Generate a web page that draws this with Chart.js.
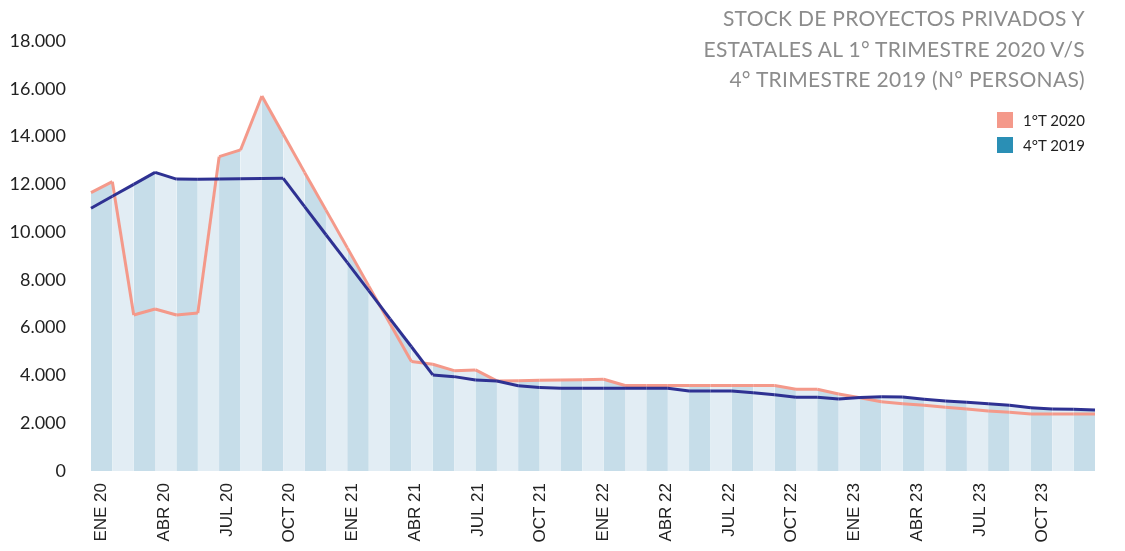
<!DOCTYPE html>
<html lang="es">
<head>
<meta charset="utf-8">
<script src="https://cdn.jsdelivr.net/npm/chart.js@4/dist/chart.umd.min.js"></script>
<style>
  html, body { margin: 0; padding: 0; background: #fff; }
  #wrap { position: relative; width: 1125px; height: 551px; }
  #title {
    position: absolute; right: 40px; top: 3px;
    font-family: Lato, "Open Sans", sans-serif; font-size: 21px; line-height: 30.5px;
    color: #8c8c8c; text-align: right; letter-spacing: 0.3px;
  }
  #legend {
    position: absolute; right: 40px; top: 107px;
    font-family: Lato, "Open Sans", sans-serif; font-size: 15px; color: #222;
  }
  #legend div { display: flex; align-items: center; justify-content: flex-end; height: 25px; }
  #legend span.sw { display: inline-block; width: 16px; height: 16px; margin-right: 10px; }
</style>
</head>
<body>
<div id="wrap">
  <canvas id="chart" width="1125" height="551"></canvas>
  <div id="title">STOCK DE PROYECTOS PRIVADOS Y<br>ESTATALES AL 1° TRIMESTRE 2020 V/S<br>4° TRIMESTRE 2019 (N° PERSONAS)</div>
  <div id="legend"></div>
</div>
<script>
const months = [
  'ENE 20', 'FEB 20', 'MAR 20', 'ABR 20', 'MAY 20', 'JUN 20', 'JUL 20', 'AGO 20', 'SEP 20', 'OCT 20', 'NOV 20', 'DIC 20',
  'ENE 21', 'FEB 21', 'MAR 21', 'ABR 21', 'MAY 21', 'JUN 21', 'JUL 21', 'AGO 21', 'SEP 21', 'OCT 21', 'NOV 21', 'DIC 21',
  'ENE 22', 'FEB 22', 'MAR 22', 'ABR 22', 'MAY 22', 'JUN 22', 'JUL 22', 'AGO 22', 'SEP 22', 'OCT 22', 'NOV 22', 'DIC 22',
  'ENE 23', 'FEB 23', 'MAR 23', 'ABR 23', 'MAY 23', 'JUN 23', 'JUL 23', 'AGO 23', 'SEP 23', 'OCT 23', 'NOV 23', 'DIC 23'
];

// 1°T 2020
const t1_2020 = [
  11650, 12110, 6530, 6780, 6530, 6610, 13160, 13440, 15700, 14100, 12500, 10920,
  9340, 7750, 6160, 4580, 4470, 4200, 4230, 3770, 3780, 3800, 3810, 3820,
  3840, 3580, 3580, 3580, 3580, 3580, 3580, 3580, 3580, 3420, 3420, 3220,
  3070, 2900, 2820, 2750, 2670, 2600, 2510, 2460, 2390, 2390, 2390, 2390
];

// 4°T 2019
const t4_2019 = [
  11000, 11500, 12000, 12500, 12220, 12210, 12220, 12230, 12240, 12250, 11070, 9890,
  8720, 7550, 6370, 5200, 4020, 3950, 3810, 3770, 3570, 3500, 3460, 3460,
  3460, 3460, 3460, 3460, 3350, 3350, 3350, 3280, 3190, 3090, 3090, 3010,
  3080, 3110, 3100, 3000, 2930, 2880, 2820, 2750, 2650, 2600, 2580, 2550
];

const yTicks = [0, 2000, 4000, 6000, 8000, 10000, 12000, 14000, 16000, 18000];

const COLOR_T1 = '#f4998a';
const COLOR_T4 = '#2e3192';
const COLOR_T4_LEGEND = '#2a8fb5';
const STRIPE_DARK = '#c6dde9';
const STRIPE_LIGHT = '#e2edf4';

const legendItems = [
  { label: '1°T 2020', color: COLOR_T1 },
  { label: '4°T 2019', color: COLOR_T4_LEGEND },
];

const legendEl = document.getElementById('legend');
legendItems.forEach(item => {
  const row = document.createElement('div');
  row.innerHTML = `<span class="sw" style="background:${item.color}"></span><span>${item.label}</span>`;
  legendEl.appendChild(row);
});

function stripe(ctx) {
  return ctx.p0DataIndex % 2 === 0 ? STRIPE_DARK : STRIPE_LIGHT;
}

function thousands(v) {
  return String(v).replace(/\B(?=(\d{3})+(?!\d))/g, '.');
}

new Chart(document.getElementById('chart'), {
  type: 'line',
  data: {
    labels: months,
    datasets: [
      {
        label: '1°T 2020',
        data: t1_2020,
        xAxisID: 'x2',
        borderColor: COLOR_T1,
        borderWidth: 3,
        pointRadius: 0,
        tension: 0,
        fill: 'origin',
        backgroundColor: STRIPE_DARK,
        segment: { backgroundColor: stripe },
        order: 2,
      },
      {
        label: '4°T 2019',
        data: t4_2019,
        xAxisID: 'x2',
        borderColor: COLOR_T4,
        borderWidth: 3,
        pointRadius: 0,
        tension: 0,
        fill: 'origin',
        backgroundColor: STRIPE_DARK,
        segment: { backgroundColor: stripe },
        order: 1,
      },
    ]
  },
  options: {
    responsive: false,
    animation: false,
    devicePixelRatio: 1,
    layout: { padding: { top: 41, right: 30, left: 0, bottom: 0 } },
    plugins: {
      legend: { display: false },
      tooltip: { enabled: false },
      filler: { drawTime: 'beforeDatasetsDraw' },
    },
    scales: {
      x: {
        type: 'category',
        offset: true,
        grid: { display: false },
        border: { display: false },
        ticks: {
          autoSkip: false,
          maxRotation: 90,
          minRotation: 90,
          padding: 4,
          color: '#222',
          font: { family: '"Liberation Sans", Arial, sans-serif', size: 17 },
          callback: (v, i) => (i % 3 === 0 ? months[i] : ''),
        },
        afterFit: scale => { scale.height = 80; },
      },
      x2: {
        type: 'category',
        offset: false,
        display: false,
      },
      y: {
        min: 0,
        max: 18000,
        grid: { display: false },
        border: { display: false },
        afterBuildTicks: scale => { scale.ticks = yTicks.map(v => ({ value: v })); },
        ticks: {
          padding: 17,
          color: '#222',
          font: { family: 'Lato, "Open Sans", sans-serif', size: 18 },
          callback: v => thousands(v),
        },
        afterFit: scale => { scale.width = 91; },
      }
    }
  }
});
</script>
</body>
</html>
